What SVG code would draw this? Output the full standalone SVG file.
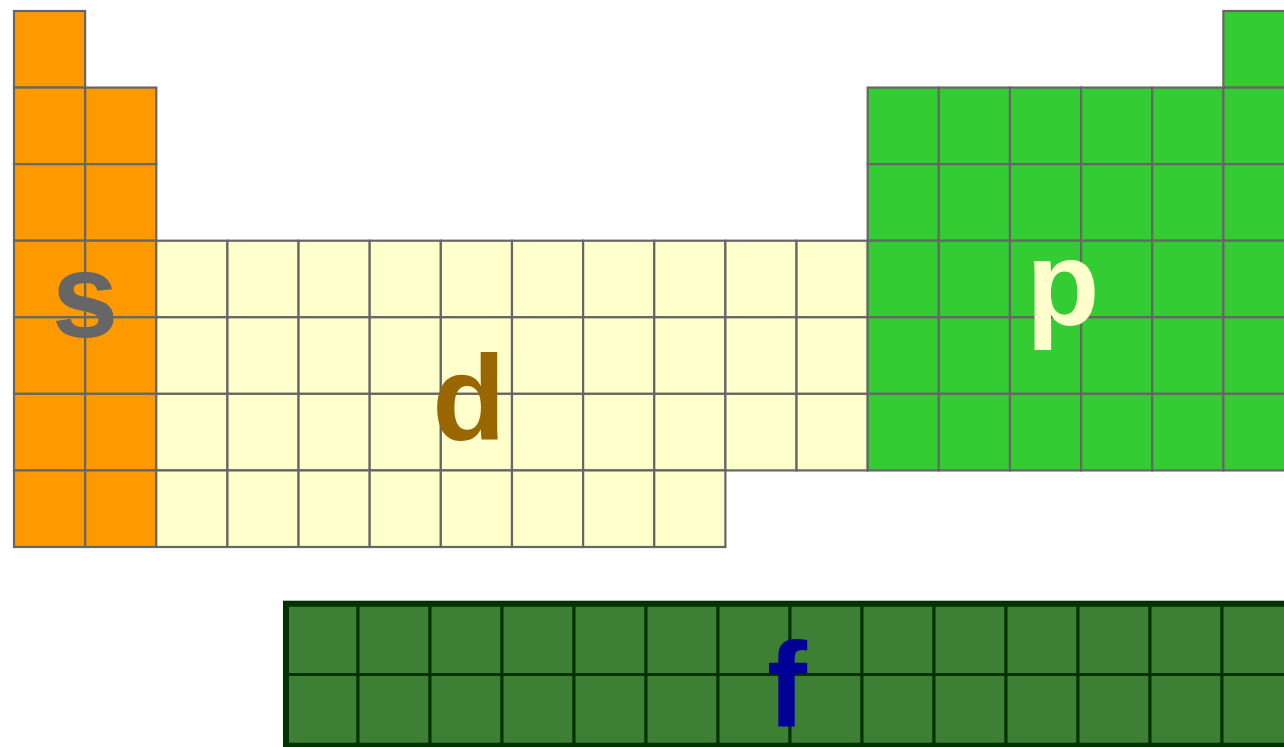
<svg xmlns="http://www.w3.org/2000/svg" xmlns:xlink="http://www.w3.org/1999/xlink" width="1284" height="747" viewBox="0 0 1284 747">
<style>
.s{fill:#FF9900;stroke:#666666;stroke-width:2.2}
.d{fill:#FFFFCC;stroke:#666666;stroke-width:2.2}
.p{fill:#33CC33;stroke:#666666;stroke-width:2.2}
.f{fill:#3D8033;stroke:#003300;stroke-width:3}
.fo{fill:none;stroke:#003300;stroke-width:6}
.lbl{font-family:"Liberation Sans",Arial,sans-serif;font-weight:bold;font-size:120px;text-anchor:middle}
</style>
<defs>
<rect id="c" width="71.14" height="76.57"/>
<rect id="fc" width="72" height="71"/>
</defs>
<rect width="1284" height="747" fill="#FFFFFF"/>
<g id="s-block" class="s">
<use href="#c" x="14" y="11"/>
<use href="#c" x="14" y="87.57"/><use href="#c" x="85.14" y="87.57"/>
<use href="#c" x="14" y="164.14"/><use href="#c" x="85.14" y="164.14"/>
<use href="#c" x="14" y="240.71"/><use href="#c" x="85.14" y="240.71"/>
<use href="#c" x="14" y="317.28"/><use href="#c" x="85.14" y="317.28"/>
<use href="#c" x="14" y="393.85"/><use href="#c" x="85.14" y="393.85"/>
<use href="#c" x="14" y="470.42"/><use href="#c" x="85.14" y="470.42"/>
<text class="lbl" x="85" y="337" fill="#666666" stroke="none">s</text>
</g>
<g id="d-block" class="d">
<use href="#c" x="156.28" y="240.71"/><use href="#c" x="227.42" y="240.71"/><use href="#c" x="298.56" y="240.71"/><use href="#c" x="369.7" y="240.71"/><use href="#c" x="440.84" y="240.71"/><use href="#c" x="511.98" y="240.71"/><use href="#c" x="583.12" y="240.71"/><use href="#c" x="654.26" y="240.71"/><use href="#c" x="725.4" y="240.71"/><use href="#c" x="796.54" y="240.71"/>
<use href="#c" x="156.28" y="317.28"/><use href="#c" x="227.42" y="317.28"/><use href="#c" x="298.56" y="317.28"/><use href="#c" x="369.7" y="317.28"/><use href="#c" x="440.84" y="317.28"/><use href="#c" x="511.98" y="317.28"/><use href="#c" x="583.12" y="317.28"/><use href="#c" x="654.26" y="317.28"/><use href="#c" x="725.4" y="317.28"/><use href="#c" x="796.54" y="317.28"/>
<use href="#c" x="156.28" y="393.85"/><use href="#c" x="227.42" y="393.85"/><use href="#c" x="298.56" y="393.85"/><use href="#c" x="369.7" y="393.85"/><use href="#c" x="440.84" y="393.85"/><use href="#c" x="511.98" y="393.85"/><use href="#c" x="583.12" y="393.85"/><use href="#c" x="654.26" y="393.85"/><use href="#c" x="725.4" y="393.85"/><use href="#c" x="796.54" y="393.85"/>
<use href="#c" x="156.28" y="470.42"/><use href="#c" x="227.42" y="470.42"/><use href="#c" x="298.56" y="470.42"/><use href="#c" x="369.7" y="470.42"/><use href="#c" x="440.84" y="470.42"/><use href="#c" x="511.98" y="470.42"/><use href="#c" x="583.12" y="470.42"/><use href="#c" x="654.26" y="470.42"/>
<text class="lbl" x="469" y="440" fill="#996600" stroke="none">d</text>
</g>
<g id="p-block" class="p">
<use href="#c" x="1223.38" y="11"/>
<use href="#c" x="867.68" y="87.57"/><use href="#c" x="938.82" y="87.57"/><use href="#c" x="1009.96" y="87.57"/><use href="#c" x="1081.1" y="87.57"/><use href="#c" x="1152.24" y="87.57"/><use href="#c" x="1223.38" y="87.57"/>
<use href="#c" x="867.68" y="164.14"/><use href="#c" x="938.82" y="164.14"/><use href="#c" x="1009.96" y="164.14"/><use href="#c" x="1081.1" y="164.14"/><use href="#c" x="1152.24" y="164.14"/><use href="#c" x="1223.38" y="164.14"/>
<use href="#c" x="867.68" y="240.71"/><use href="#c" x="938.82" y="240.71"/><use href="#c" x="1009.96" y="240.71"/><use href="#c" x="1081.1" y="240.71"/><use href="#c" x="1152.24" y="240.71"/><use href="#c" x="1223.38" y="240.71"/>
<use href="#c" x="867.68" y="317.28"/><use href="#c" x="938.82" y="317.28"/><use href="#c" x="1009.96" y="317.28"/><use href="#c" x="1081.1" y="317.28"/><use href="#c" x="1152.24" y="317.28"/><use href="#c" x="1223.38" y="317.28"/>
<use href="#c" x="867.68" y="393.85"/><use href="#c" x="938.82" y="393.85"/><use href="#c" x="1009.96" y="393.85"/><use href="#c" x="1081.1" y="393.85"/><use href="#c" x="1152.24" y="393.85"/><use href="#c" x="1223.38" y="393.85"/>
<text class="lbl" x="1063" y="325" fill="#FFFFCC" stroke="none">p</text>
</g>
<g id="f-block" class="f">
<use href="#fc" x="286" y="603.5"/><use href="#fc" x="358" y="603.5"/><use href="#fc" x="430" y="603.5"/><use href="#fc" x="502" y="603.5"/><use href="#fc" x="574" y="603.5"/><use href="#fc" x="646" y="603.5"/><use href="#fc" x="718" y="603.5"/><use href="#fc" x="790" y="603.5"/><use href="#fc" x="862" y="603.5"/><use href="#fc" x="934" y="603.5"/><use href="#fc" x="1006" y="603.5"/><use href="#fc" x="1078" y="603.5"/><use href="#fc" x="1150" y="603.5"/><use href="#fc" x="1222" y="603.5"/>
<use href="#fc" x="286" y="674.5"/><use href="#fc" x="358" y="674.5"/><use href="#fc" x="430" y="674.5"/><use href="#fc" x="502" y="674.5"/><use href="#fc" x="574" y="674.5"/><use href="#fc" x="646" y="674.5"/><use href="#fc" x="718" y="674.5"/><use href="#fc" x="790" y="674.5"/><use href="#fc" x="862" y="674.5"/><use href="#fc" x="934" y="674.5"/><use href="#fc" x="1006" y="674.5"/><use href="#fc" x="1078" y="674.5"/><use href="#fc" x="1150" y="674.5"/><use href="#fc" x="1222" y="674.5"/>
<rect class="fo" x="286" y="603.7" width="1010" height="142"/>
<text class="lbl" x="787" y="727" fill="#000099" stroke="none">f</text>
</g>
</svg>
